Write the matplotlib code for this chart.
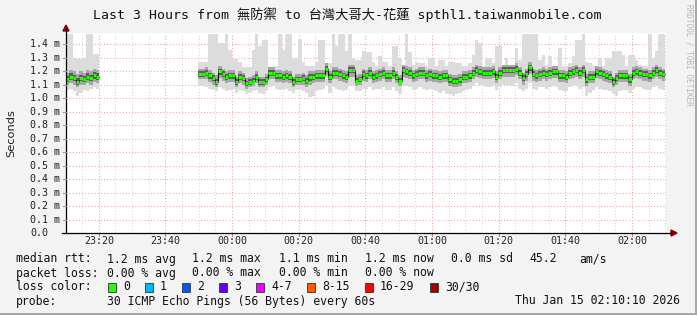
import numpy as np
import pandas as pd
import matplotlib
matplotlib.use("Agg")
import matplotlib.pyplot as plt
from matplotlib.patches import Rectangle, Polygon
from matplotlib.lines import Line2D
from matplotlib.transforms import blended_transform_factory

W, H = 697, 315
MONO = ['DejaVu Sans Mono', 'Noto Sans CJK TC']

title = "Last 3 Hours from 無防禦 to 台灣大哥大-花蓮 spthl1.taiwanmobile.com"
start = pd.Timestamp("2026-01-14 23:10:10")
end = pd.Timestamp("2026-01-15 02:10:10")
seg1_start = pd.Timestamp("2026-01-14 23:10:10")
seg2_start = pd.Timestamp("2026-01-14 23:49:50")

# one value per 60 s step, in ms
med1 = [1.14, 1.16, 1.15, 1.12, 1.15, 1.14, 1.16, 1.15, 1.17, 1.16]
max1 = [1.48, 1.48, 1.30, 1.29, 1.29, 1.30, 1.48, 1.48, 1.33, 1.33]
min1 = [1.06, 1.07, 1.05, 1.02, 1.04, 1.06, 1.05, 1.07, 1.08, 1.07]
lo1 = [1.10, 1.11, 1.10, 1.08, 1.10, 1.10, 1.11, 1.10, 1.12, 1.11]
hi1 = [1.19, 1.21, 1.20, 1.18, 1.20, 1.19, 1.21, 1.20, 1.22, 1.21]

med2 = [1.18, 1.18, 1.19, 1.17, 1.15, 1.12, 1.20, 1.18, 1.16, 1.17,
        1.17, 1.12, 1.16, 1.15, 1.11, 1.12, 1.13, 1.16, 1.12, 1.12,
        1.14, 1.19, 1.19, 1.17, 1.17, 1.16, 1.17, 1.16, 1.12, 1.14,
        1.14, 1.15, 1.13, 1.16, 1.16, 1.17, 1.17, 1.17, 1.22, 1.16,
        1.19, 1.19, 1.18, 1.17, 1.16, 1.21, 1.21, 1.13, 1.14, 1.18,
        1.17, 1.19, 1.16, 1.17, 1.18, 1.19, 1.17, 1.17, 1.19, 1.16,
        1.13, 1.21, 1.20, 1.19, 1.17, 1.18, 1.19, 1.19, 1.17, 1.18,
        1.17, 1.17, 1.16, 1.17, 1.17, 1.14, 1.13, 1.13, 1.14, 1.16,
        1.16, 1.17, 1.19, 1.21, 1.20, 1.19, 1.19, 1.19, 1.20, 1.16,
        1.19, 1.21, 1.21, 1.21, 1.21, 1.22, 1.19, 1.15, 1.18, 1.23,
        1.18, 1.17, 1.18, 1.19, 1.18, 1.19, 1.20, 1.20, 1.17, 1.17,
        1.16, 1.19, 1.20, 1.21, 1.19, 1.21, 1.14, 1.16, 1.16, 1.20,
        1.19, 1.18, 1.17, 1.16, 1.12, 1.15, 1.17, 1.17, 1.17, 1.14,
        1.19, 1.20, 1.19, 1.18, 1.18, 1.17, 1.19, 1.21, 1.19, 1.18]
max2 = [1.27, 1.27, 1.27, 1.48, 1.48, 1.48, 1.41, 1.41, 1.48, 1.36,
        1.29, 1.29, 1.27, 1.23, 1.23, 1.23, 1.36, 1.48, 1.39, 1.43,
        1.43, 1.23, 1.23, 1.24, 1.48, 1.36, 1.48, 1.48, 1.30, 1.30,
        1.44, 1.27, 1.24, 1.24, 1.24, 1.27, 1.43, 1.43, 1.26, 1.26,
        1.48, 1.39, 1.48, 1.48, 1.35, 1.48, 1.30, 1.28, 1.28, 1.35,
        1.34, 1.34, 1.27, 1.24, 1.31, 1.27, 1.27, 1.24, 1.39, 1.39,
        1.30, 1.24, 1.48, 1.34, 1.25, 1.27, 1.26, 1.26, 1.24, 1.30,
        1.30, 1.24, 1.28, 1.28, 1.24, 1.27, 1.27, 1.26, 1.26, 1.24,
        1.24, 1.26, 1.32, 1.43, 1.41, 1.24, 1.30, 1.30, 1.26, 1.39,
        1.39, 1.24, 1.30, 1.24, 1.24, 1.37, 1.28, 1.48, 1.48, 1.48,
        1.48, 1.48, 1.28, 1.32, 1.25, 1.31, 1.24, 1.24, 1.37, 1.24,
        1.24, 1.26, 1.31, 1.43, 1.43, 1.48, 1.27, 1.26, 1.24, 1.24,
        1.30, 1.24, 1.30, 1.30, 1.35, 1.35, 1.35, 1.32, 1.24, 1.32,
        1.32, 1.28, 1.25, 1.24, 1.24, 1.48, 1.30, 1.35, 1.48, 1.48]
min2 = [1.10, 1.09, 1.08, 1.07, 1.06, 1.05, 1.08, 1.07, 1.05, 1.06,
        1.07, 1.04, 1.06, 1.05, 1.03, 1.04, 1.05, 1.06, 1.04, 1.03,
        1.05, 1.08, 1.09, 1.07, 1.06, 1.06, 1.07, 1.05, 1.04, 1.06,
        1.06, 1.05, 1.04, 1.01, 1.02, 1.05, 1.06, 1.07, 1.10, 1.04,
        1.08, 1.07, 1.06, 1.05, 1.06, 1.10, 1.09, 1.05, 1.05, 1.07,
        1.07, 1.08, 1.06, 1.07, 1.07, 1.08, 1.06, 1.06, 1.08, 1.05,
        1.03, 1.10, 1.09, 1.08, 1.06, 1.07, 1.08, 1.07, 1.06, 1.07,
        1.06, 1.05, 1.04, 1.05, 1.03, 1.03, 1.02, 1.03, 1.04, 1.05,
        1.06, 1.07, 1.09, 1.11, 1.10, 1.09, 1.08, 1.08, 1.09, 1.06,
        1.08, 1.10, 1.10, 1.10, 1.09, 1.11, 1.07, 1.05, 1.07, 1.11,
        1.07, 1.06, 1.08, 1.08, 1.07, 1.08, 1.09, 1.08, 1.06, 1.05,
        1.05, 1.08, 1.09, 1.10, 1.07, 1.08, 1.02, 1.04, 1.06, 1.08,
        1.07, 1.06, 1.06, 1.05, 1.03, 1.02, 1.05, 1.06, 1.06, 1.04,
        1.07, 1.08, 1.08, 1.07, 1.06, 1.06, 1.08, 1.09, 1.07, 1.06]
lo2 = [1.14, 1.14, 1.14, 1.12, 1.10, 1.08, 1.15, 1.13, 1.11, 1.12,
       1.12, 1.08, 1.11, 1.10, 1.07, 1.08, 1.09, 1.11, 1.08, 1.08,
       1.10, 1.14, 1.14, 1.12, 1.12, 1.11, 1.12, 1.11, 1.08, 1.10,
       1.10, 1.10, 1.08, 1.10, 1.11, 1.12, 1.12, 1.12, 1.17, 1.11,
       1.14, 1.14, 1.13, 1.12, 1.11, 1.16, 1.16, 1.09, 1.10, 1.13,
       1.12, 1.14, 1.11, 1.12, 1.13, 1.14, 1.12, 1.12, 1.14, 1.11,
       1.09, 1.16, 1.15, 1.14, 1.12, 1.13, 1.14, 1.14, 1.12, 1.13,
       1.12, 1.12, 1.11, 1.12, 1.12, 1.09, 1.08, 1.08, 1.09, 1.11,
       1.11, 1.12, 1.14, 1.16, 1.15, 1.14, 1.14, 1.14, 1.15, 1.11,
       1.14, 1.16, 1.16, 1.16, 1.16, 1.17, 1.14, 1.10, 1.13, 1.18,
       1.13, 1.12, 1.13, 1.14, 1.13, 1.14, 1.15, 1.15, 1.12, 1.12,
       1.11, 1.14, 1.15, 1.16, 1.14, 1.16, 1.09, 1.11, 1.11, 1.15,
       1.14, 1.13, 1.12, 1.11, 1.08, 1.10, 1.12, 1.12, 1.12, 1.09,
       1.14, 1.15, 1.14, 1.13, 1.13, 1.12, 1.14, 1.16, 1.14, 1.13]
hi2 = [1.22, 1.22, 1.23, 1.21, 1.19, 1.17, 1.24, 1.22, 1.20, 1.21,
       1.21, 1.16, 1.20, 1.19, 1.15, 1.16, 1.17, 1.20, 1.16, 1.16,
       1.18, 1.23, 1.23, 1.21, 1.21, 1.20, 1.21, 1.20, 1.16, 1.18,
       1.18, 1.19, 1.17, 1.20, 1.20, 1.21, 1.21, 1.21, 1.26, 1.20,
       1.23, 1.23, 1.22, 1.21, 1.20, 1.25, 1.25, 1.17, 1.18, 1.22,
       1.21, 1.23, 1.20, 1.21, 1.22, 1.23, 1.21, 1.21, 1.23, 1.20,
       1.17, 1.25, 1.24, 1.23, 1.21, 1.22, 1.23, 1.23, 1.21, 1.22,
       1.21, 1.21, 1.20, 1.21, 1.21, 1.18, 1.17, 1.17, 1.18, 1.20,
       1.20, 1.21, 1.23, 1.25, 1.24, 1.23, 1.23, 1.23, 1.24, 1.20,
       1.23, 1.25, 1.25, 1.25, 1.25, 1.26, 1.23, 1.19, 1.22, 1.27,
       1.22, 1.21, 1.22, 1.23, 1.22, 1.23, 1.24, 1.24, 1.21, 1.21,
       1.20, 1.23, 1.24, 1.25, 1.23, 1.25, 1.18, 1.20, 1.20, 1.24,
       1.23, 1.22, 1.21, 1.20, 1.16, 1.19, 1.21, 1.21, 1.21, 1.18,
       1.23, 1.24, 1.23, 1.22, 1.22, 1.21, 1.23, 1.25, 1.23, 1.22]

time_labels = ["23:20", "23:40", "00:00", "00:20", "00:40", "01:00", "01:20", "01:40", "02:00"]
y_ticks = [0.0, 0.1, 0.2, 0.3, 0.4, 0.5, 0.6, 0.7, 0.8, 0.9, 1.0, 1.1, 1.2, 1.3, 1.4]

stats = [("median rtt:", ["1.2 ms avg", "1.2 ms max", "1.1 ms min", "1.2 ms now", "0.0 ms sd", "45.2", "am/s"]),
         ("packet loss:", ["0.00 % avg", "0.00 % max", "0.00 % min", "0.00 % now"])]
stat_x = [107, 192, 279, 365, 451, 529, 579]
loss_labels = ["0", "1", "2", "3", "4-7", "8-15", "16-29", "30/30"]
loss_colors = ["#26ff00", "#00b8ff", "#0059ff", "#5e00ff", "#ee00ff", "#ff5a00", "#ff0000", "#a00000"]
loss_x = [108, 145, 182, 219, 256, 307, 365, 430]
probe_text = "30 ICMP Echo Pings (56 Bytes) every 60s"
stamp = "Thu Jan 15 02:10:10 2026"


def minutes(ts):
    return (ts - start) / pd.Timedelta(minutes=1)


def fx(x):
    return x / W


def fy(y):
    return 1 - y / H


fig = plt.figure(figsize=(W / 100, H / 100), dpi=100, facecolor="#f3f3f3")
ax = fig.add_axes([fx(66), fy(233), 600 / W, 200 / H])
ax.set_facecolor("white")
ax.set_xlim(0, minutes(end))
ax.set_ylim(0, 1.484)
for s in ax.spines.values():
    s.set_visible(False)
ax.set_xticks([])
ax.set_yticks([])

# grid
dots = (0, (1, 2))
tick_ts = []
for lab in time_labels:
    day = "2026-01-14" if lab.startswith("23") else "2026-01-15"
    tick_ts.append(pd.Timestamp(day + " " + lab))
major = [minutes(t) for t in tick_ts]
minor = [minutes(t) for t in pd.date_range("2026-01-14 23:15", end, freq="5min")]
for m in minor:
    if m not in major:
        ax.axvline(m, color="#d4d4d4", lw=0.75, ls=dots, zorder=0)
for m in major:
    ax.axvline(m, color="#eaa6a6", lw=0.75, ls=dots, zorder=0)
for y in y_ticks[1:]:
    ax.axhline(y, color="#eaa6a6", lw=0.75, ls=dots, zorder=0)


def draw_seg(t0, med, mx, mn, lo, hi):
    x = minutes(t0) + np.arange(len(med))
    xe = np.append(x, x[-1] + 1)
    ext = lambda a: np.append(np.asarray(a), a[-1])
    med_e, mx_e, mn_e, lo_e, hi_e = map(ext, (med, mx, mn, lo, hi))
    ax.fill_between(xe, mn_e, mx_e, step="post", color="#dcdcdc", lw=0, zorder=1)
    ax.fill_between(xe, lo_e, hi_e, step="post", color="#a6a6a6", lw=0, zorder=2)
    ax.fill_between(xe, (lo_e + med_e) / 2, (hi_e + med_e) / 2, step="post",
                    color="#5c5c5c", lw=0, zorder=3)
    ax.step(xe, med_e, where="post", color="#111111", lw=0.8, zorder=4)
    ax.hlines(med, x, x + 1, color="#26ff00", lw=2.2, zorder=5)


draw_seg(seg1_start, med1, max1, min1, lo1, hi1)
draw_seg(seg2_start, med2, max2, min2, lo2, hi2)

# axis lines and arrows
fig.add_artist(Line2D([fx(66), fx(66)], [fy(233), fy(29)], color="black", lw=0.9))
fig.add_artist(Line2D([fx(62), fx(672)], [fy(233), fy(233)], color="black", lw=0.9))
fig.add_artist(Polygon([(fx(63), fy(31)), (fx(69), fy(31)), (fx(66), fy(25))],
                       closed=True, color="#8b0000"))
fig.add_artist(Polygon([(fx(671), fy(230)), (fx(671), fy(236)), (fx(677), fy(233))],
                       closed=True, color="#8b0000"))

ytr = blended_transform_factory(fig.transFigure, ax.transData)
for y in y_ticks:
    lab = "0.0" if y == 0 else f"{y:.1f} m"
    ax.text(fx(30), y, lab, transform=ytr, ha="left", va="center",
            fontsize=7.2, family=MONO, color="#222222")
    if y > 0:
        fig.add_artist(Line2D([fx(63), fx(66)], [fy(233 - y / 1.484 * 200)] * 2,
                              color="#999999", lw=0.8))

xtr = blended_transform_factory(ax.transData, fig.transFigure)
for m, lab in zip(major, time_labels):
    ax.text(m, fy(241.5), lab, transform=xtr, ha="center", va="center",
            fontsize=7.2, family=MONO, color="#222222")
    ax.add_line(Line2D([m, m], [fy(233), fy(236)], transform=xtr,
                       color="#d08080", lw=0.8, clip_on=False))

fig.text(fx(347), fy(15), title, ha="center", va="center", fontsize=9.5,
         family=MONO, color="#111111")
fig.text(fx(11), fy(133), "Seconds", rotation=90, ha="center", va="center",
         fontsize=8.2, family="DejaVu Sans", color="#222222")
fig.text(fx(689), fy(4), "RRDTOOL / TOBI OETIKER", rotation=270, ha="center",
         va="top", fontsize=5.6, family=MONO, color="#b8b8b8")

# legend block
leg_kw = dict(fontsize=8.3, family=MONO, color="#111111", va="center", ha="left")
for row, (head, items) in enumerate(stats):
    yy = fy(259 + 14 * row)
    fig.text(fx(16), yy, head, **leg_kw)
    for xx, it in zip(stat_x, items):
        fig.text(fx(xx), yy, it, **leg_kw)

fig.text(fx(16), fy(287), "loss color:", **leg_kw)
for xx, lab, col in zip(loss_x, loss_labels, loss_colors):
    fig.add_artist(Rectangle((fx(xx), fy(291.5)), 8 / W, 9 / H, facecolor=col,
                             edgecolor="#333333", lw=0.6))
    fig.text(fx(xx + 15), fy(287), lab, **leg_kw)

fig.text(fx(16), fy(301), "probe:", **leg_kw)
fig.text(fx(107), fy(301), probe_text, **leg_kw)
fig.text(fx(680), fy(301), stamp, **dict(leg_kw, ha="right"))

# frame edges
fig.add_artist(Rectangle((fx(695), 0), 2 / W, 1, color="#a8a8a8", lw=0))
fig.add_artist(Rectangle((0, 0), 1, 2 / H, color="#a8a8a8", lw=0))

fig.savefig("out.png", dpi=100, facecolor=fig.get_facecolor())
